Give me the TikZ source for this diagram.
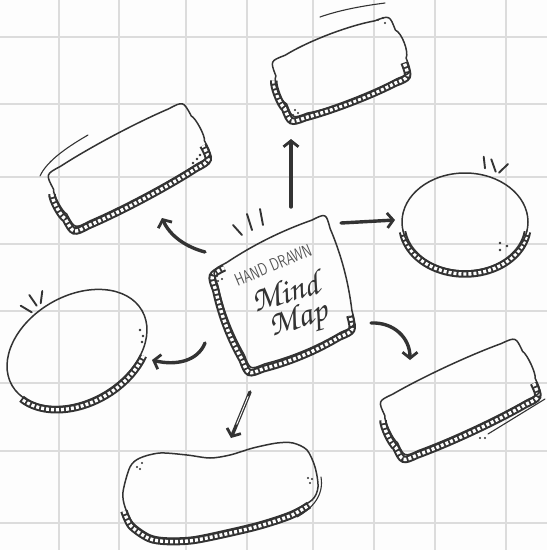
\documentclass[tikz,border=0pt]{standalone}
\usepackage[T1,TU]{fontenc}
\usetikzlibrary{arrows.meta,calc}
\definecolor{ink}{HTML}{333333}
\definecolor{gridc}{HTML}{DCDCDC}
\definecolor{paper}{HTML}{FDFDFD}
\newcommand\scriptf{\fontencoding{T1}\fontfamily{pzc}\fontseries{mb}\fontshape{it}\selectfont}
% w h r b
\newcommand\pillowpath[4]{({-#1/2+#3},{-#2/2}) .. controls ({-#1/6},{-#2/2-#4}) and ({#1/6},{-#2/2-#4}) .. ({#1/2-#3},{-#2/2})
 .. controls ({#1/2},{-#2/2}) .. ({#1/2},{-#2/2+#3})
 .. controls ({#1/2+#4},{-#2/6}) and ({#1/2+#4},{#2/6}) .. ({#1/2},{#2/2-#3})
 .. controls ({#1/2},{#2/2}) .. ({#1/2-#3},{#2/2})
 .. controls ({#1/6},{#2/2+#4}) and ({-#1/6},{#2/2+#4}) .. ({-#1/2+#3},{#2/2})
 .. controls ({-#1/2},{#2/2}) .. ({-#1/2},{#2/2-#3})
 .. controls ({-#1/2-#4},{#2/6}) and ({-#1/2-#4},{-#2/6}) .. ({-#1/2},{-#2/2+#3})
 .. controls ({-#1/2},{-#2/2}) .. ({-#1/2+#3},{-#2/2}) -- cycle}
\newcommand\pillowband[4]{({-#1/2},{-#2/2+#3}) .. controls ({-#1/2-#4},{-#2/6}) and ({-#1/2-#4},{#2/6}) .. ({-#1/2},{#2/2-#3})
 .. controls ({-#1/2},{#2/2}) .. ({-#1/2+#3},{#2/2})
 .. controls ({-#1/6},{#2/2+#4}) and ({#1/6},{#2/2+#4}) .. ({#1/2-#3},{#2/2})
 .. controls ({#1/2},{#2/2}) .. ({#1/2},{#2/2-#3})}
\begin{document}
\begin{tikzpicture}[x=1pt,y=-1pt,
  outl/.style={draw=ink, line width=1.5pt, line join=round},
  bandd/.style={draw=ink, line width=7.5pt},
  bandw/.style={draw=white, line width=3.4pt, dash pattern=on 3pt off 2pt},
  arr/.style={draw=ink, line width=3.4pt, line cap=round, -{Straight Barb[length=6pt,width=15pt,line width=2.8pt]}},
  tickmark/.style={draw=ink, line width=1.9pt, line cap=round},
  sketch/.style={draw=ink, line width=1.1pt, line cap=round},
  dotc/.style={fill=ink}]
\fill[paper] (0,0) rectangle (547,550);
\useasboundingbox (0,0) rectangle (547,550);
\foreach \gx in {59,119,186,247,313,374,435,506} \draw[gridc, line width=1.3pt] (\gx,0) -- (\gx,550);
\foreach \gy in {37,104,177,244,311,383,451,523} \draw[gridc, line width=1.3pt] (0,\gy) -- (547,\gy);

% Box A (top-left)
\begin{scope}[shift={(129,165)}, rotate=28]
 \begin{scope}[shift={(-3.5,3.5)}]
  \draw[bandd] \pillowband{156}{62}{17}{3};
  \draw[bandw] \pillowband{156}{62}{17}{3};
 \end{scope}
 \draw[outl] \pillowpath{156}{62}{17}{3};
 \coordinate (A) at (0,0);
\end{scope}
\draw[sketch] (40,176) .. controls (46,163) and (62,150) .. (88,135);
\fill[dotc] (193,163) circle (1.3) (197,159) circle (1.3) (200,155) circle (1.3);

% Box B (top-right)
\begin{scope}[shift={(341,67)}, rotate=21]
 \begin{scope}[shift={(-3.5,3.5)}]
  \draw[bandd] \pillowband{128}{62}{16}{3};
  \draw[bandw] \pillowband{128}{62}{16}{3};
 \end{scope}
 \draw[outl] \pillowpath{128}{62}{16}{5};
 \coordinate (B) at (0,0);
\end{scope}
\draw[sketch] (320,17) .. controls (340,10) and (362,6) .. (385,3);
\fill[dotc] (378,20) circle (1.2) (383,18) circle (1.2) (385,23) circle (1.2);
\fill[dotc] (295,110) circle (1.2) (298,113) circle (1.2) (293,115) circle (1.2);

% Box F (bottom-right)
\begin{scope}[shift={(460,397)}, rotate=25]
 \begin{scope}[shift={(-3.5,3.5)}]
  \draw[bandd] \pillowband{152}{62}{16}{3};
  \draw[bandw] \pillowband{152}{62}{16}{3};
 \end{scope}
 \draw[outl] \pillowpath{152}{62}{16}{3};
 \coordinate (F) at (0,0);
\end{scope}
\draw[sketch] (488,434) -- (545,399);
\fill[dotc] (480,438) circle (1.1) (485,438) circle (1.1);

% Right oval C
\begin{scope}[shift={(465,222)}]
 \draw[bandd] plot[domain=8:172, samples=50] ({63*cos(\x)},{49*sin(\x)+3});
 \draw[bandw] plot[domain=8:172, samples=50] ({63*cos(\x)},{49*sin(\x)+3});
 \draw[outl] (0,0) ellipse [x radius=63, y radius=49];
 \coordinate (C) at (0,0);
\end{scope}
\fill[dotc] (500,243) circle (1.3) (507,246) circle (1.3) (500,250) circle (1.3);
\draw[tickmark] (483.7,156.7) -- (485,168.3);
\draw[tickmark] (491.3,159.3) -- (495.7,171.7);
\draw[tickmark] (508,164) -- (499,172.7);

% Left oval D
\begin{scope}[shift={(77,348)}, rotate=30]
 \draw[bandd] plot[domain=45:165, samples=50] ({76*cos(\x)},{53*sin(\x)+2.5});
 \draw[bandw] plot[domain=45:165, samples=50] ({76*cos(\x)},{53*sin(\x)+2.5});
 \draw[outl] (0,0) ellipse [x radius=75, y radius=52];
 \coordinate (D) at (0,0);
\end{scope}
\fill[dotc] (140,330) circle (1.3) (143,336) circle (1.3) (142,342) circle (1.3);
\draw[tickmark] (20.7,305.7) -- (31.7,312.3);
\draw[tickmark] (29.3,295) -- (36.7,305.7);
\draw[tickmark] (42.3,291) -- (40.7,303.3);

% Bottom blob E
\draw[bandd] plot[smooth] coordinates {(124,511) (131,526) (149,538.5) (167,541.5) (193,540.5) (228,533.5) (261,525.5) (291,515.5) (309,505)};
\draw[bandw] plot[smooth] coordinates {(124,511) (131,526) (149,538.5) (167,541.5) (193,540.5) (228,533.5) (261,525.5) (291,515.5) (309,505)};
\draw[outl] plot[smooth cycle] coordinates {(123,492) (130,467) (140,458) (160,453) (187,455) (210,458) (230,455) (253,448) (277,443) (293,443) (307,450) (315,467) (318,487) (312,500) (290,512) (260,522) (227,530) (193,537) (167,538) (150,535) (133,523) (125,507)};
\coordinate (E) at (220,495);
\draw[sketch] (321,477) .. controls (324,495) and (313,508) .. (297,517);
\fill[dotc] (137,467) circle (1.2) (142,463) circle (1.2) (140,469) circle (1.2);
\fill[dotc] (308,478) circle (1.2) (310,483) circle (1.2) (312,479) circle (1.2);

% Center M
\begin{scope}[shift={(-2,5)}]
 \draw[bandd] (226.3,262.8) .. controls (212,270) .. (217.7,285) .. controls (222.9,309.7) and (231.7,333.1) .. (244.3,355) .. controls (250,370) .. (264.8,363.9) .. controls (291.8,357) and (317.2,346.4) .. (341.2,332.1) .. controls (356,326) .. (351.9,310.5);
 \draw[bandw] (226.3,262.8) .. controls (212,270) .. (217.7,285) .. controls (222.9,309.7) and (231.7,333.1) .. (244.3,355) .. controls (250,370) .. (264.8,363.9) .. controls (291.8,357) and (317.2,346.4) .. (341.2,332.1) .. controls (356,326) .. (351.9,310.5);
\end{scope}
\draw[outl] (226.3,262.8) .. controls (253,245) and (281.4,230.8) .. (311.7,220.2)
 .. controls (326,213) .. (330.1,228.5)
 .. controls (341.3,254.8) and (348.5,282.2) .. (351.9,310.5)
 .. controls (356,326) .. (341.2,332.1)
 .. controls (317.2,346.4) and (291.8,357) .. (264.8,363.9)
 .. controls (250,370) .. (244.3,355)
 .. controls (231.7,333.1) and (222.9,309.7) .. (217.7,285)
 .. controls (212,270) .. (226.3,262.8) -- cycle;
\fill[dotc] (217,276) circle (1.2) (222,279) circle (1.2) (218,281) circle (1.2);
\draw[tickmark] (233,225) -- (242,235);
\draw[tickmark] (247,214) -- (252,230);
\draw[tickmark] (260,209) -- (263,225);

\node[rotate=23, yscale=1.4, text=ink!85, font=\fontsize{12.5}{12.5}\selectfont\sffamily, inner sep=0pt] (hd) at (273,265) {HAND DRAWN};
\node[rotate=16, text=ink, font=\fontsize{35}{35}\scriptf, inner sep=0pt] (mind) at (285,291) {Mind};
\node[rotate=16, text=ink, font=\fontsize{35}{35}\scriptf, inner sep=0pt] (map) at (299,321) {Map};

% Arrows
\coordinate (upS) at (291,207); \coordinate (upE) at (291,139);
\coordinate (rS) at (341,223); \coordinate (rE) at (395,220);
\coordinate (aS) at (205,252); \coordinate (aE) at (162,218);
\coordinate (dS) at (205,343); \coordinate (dE) at (152,360);
\coordinate (eS) at (250,392); \coordinate (eE) at (231,438);
\coordinate (fS) at (371,323); \coordinate (fE) at (410,360);
\draw[arr] (upS) -- (upE);
\draw[arr] (rS) -- (rE);
\draw[arr] (aS) .. controls (186,247) and (170,236) .. (aE);
\draw[arr] (dS) .. controls (198,361) and (176,366) .. (dE);
\draw[arr] (eS) -- (eE);
\draw[white, line width=0.9pt, line cap=round] ($(eS)!0.1!(eE)$) -- ($(eS)!0.7!(eE)$);
\draw[arr] (fS) .. controls (394,322) and (410,338) .. (fE);
\end{tikzpicture}
\end{document}
